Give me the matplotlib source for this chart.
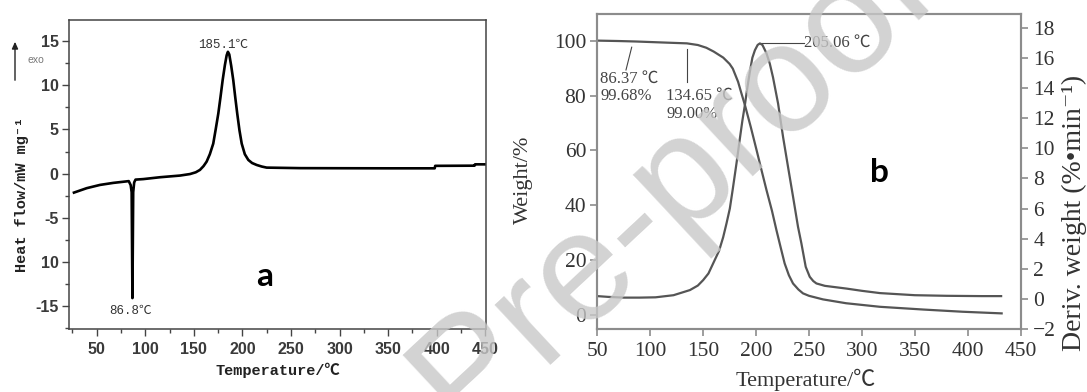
import matplotlib
matplotlib.use('Agg')
import matplotlib.pyplot as plt
from matplotlib.ticker import MultipleLocator, FixedLocator, FixedFormatter

# ---------------- data ----------------
# Panel a: DSC curve
dsc_temp = [26.6, 39.7, 53.4, 67.1, 79.1, 83.0, 85.0, 86.0, 86.8, 87.6, 88.6, 90.0,
            98.0, 115.2, 135.8, 146.0, 152.0, 156.3, 160.0, 163.2, 166.5, 170.0,
            172.5, 175.2, 177.5, 179.7, 182.0, 183.8, 185.1, 186.5, 188.5, 190.6,
            192.7, 194.7, 197.0, 199.3, 202.5, 206.1, 210.0, 214.7, 220.0, 225.0,
            260.0, 300.0, 350.0, 398.0, 398.5, 439.0, 439.5, 450.0]
dsc_heat = [-2.15, -1.65, -1.28, -1.05, -0.9, -0.85, -1.3, -2.1, -14.1, -2.1, -1.0, -0.68,
            -0.62, -0.41, -0.22, -0.05, 0.15, 0.42, 0.85, 1.36, 2.2, 3.4,
            5.0, 6.8, 8.7, 10.6, 12.3, 13.4, 13.8, 13.5, 12.2, 10.6,
            8.6, 6.8, 4.9, 3.4, 2.2, 1.55, 1.2, 0.98, 0.8, 0.68,
            0.62, 0.61, 0.6, 0.6, 0.88, 0.9, 1.05, 1.05]
dsc_xticks = [50, 100, 150, 200, 250, 300, 350, 400, 450]
dsc_yticks = [-15, -10, -5, 0, 5, 10, 15]
dsc_ylabels = ['-15', '10', '-5', '0', '5', '10', '15']

# Panel b: TG (left axis) and DTG (right axis)
tg_temp = [50, 70, 86.37, 106, 120, 134.65, 145, 153, 160, 169, 175, 178, 183, 186,
           189.4, 195, 200.4, 205, 209.8, 215, 219.2, 223, 227, 231, 234.9, 240,
           244.3, 250, 263.2, 285, 317, 358, 395, 432]
tg_weight = [100, 99.85, 99.68, 99.4, 99.2, 99.0, 98.4, 97.4, 96.0, 93.8, 91.5, 89.8,
             85.0, 81.0, 76.6, 68.5, 60.2, 53.0, 45.6, 38.0, 31.0, 25.0, 18.8, 14.5,
             11.5, 9.3, 7.9, 7.0, 5.7, 4.3, 3.0, 2.0, 1.2, 0.6]
dtg_temp = [50, 60, 75, 90, 105, 122, 137.5, 145, 150, 155, 159.4, 165, 168.9, 172,
            175.2, 178, 181.5, 184.6, 187, 189.4, 191.5, 194.2, 196.5, 198.9, 201.5,
            203.6, 206, 209.8, 213, 216, 220.8, 225.5, 230.2, 234.9, 239.6, 242.8,
            246.9, 250.7, 254, 257, 265, 285.3, 300, 317, 350, 380, 413, 431.5]
dtg_value = [0.2, 0.15, 0.1, 0.1, 0.12, 0.26, 0.6, 0.9, 1.26, 1.7, 2.36, 3.2, 4.1, 5.0,
             6.0, 7.3, 9.0, 10.6, 11.8, 12.85, 13.9, 15.1, 16.0, 16.5, 16.85,
             16.95, 16.85, 16.3, 15.6, 14.7, 12.96, 10.75, 8.76, 6.8, 4.8, 3.7,
             2.14, 1.48, 1.2, 1.04, 0.88, 0.7, 0.55, 0.4, 0.26, 0.22, 0.2, 0.2]
tga_xticks = [50, 100, 150, 200, 250, 300, 350, 400, 450]
tga_left_ticks = [0, 20, 40, 60, 80, 100]
tga_right_ticks = [-2, 0, 2, 4, 6, 8, 10, 12, 14, 16, 18]

# ---------------- figure ----------------
W, H = 1087, 392
fig = plt.figure(figsize=(W / 100, H / 100), dpi=100)


def rect(l, t, r, b):
    return [l / W, 1 - b / H, (r - l) / W, (b - t) / H]


def fx(px):
    return px / W


def fy(py):
    return 1 - py / H


mono = ['Liberation Mono', 'Noto Sans CJK SC', 'DejaVu Sans Mono']
serif = ['Liberation Serif', 'Noto Sans CJK SC', 'DejaVu Serif']

# ---------- panel a ----------
axa = fig.add_axes(rect(69, 20, 486, 329))
axa.set_facecolor('none')
axa.plot(dsc_temp, dsc_heat, color='black', lw=1.9, solid_joinstyle='round')
axa.set_xlim(21.5, 450.8)
axa.set_ylim(-17.6, 17.4)
axa.xaxis.set_major_locator(FixedLocator(dsc_xticks))
axa.xaxis.set_minor_locator(MultipleLocator(25))
axa.yaxis.set_major_locator(FixedLocator(dsc_yticks))
axa.yaxis.set_major_formatter(FixedFormatter(dsc_ylabels))
axa.yaxis.set_minor_locator(MultipleLocator(2.5))
for s in axa.spines.values():
    s.set_color('#444444')
    s.set_linewidth(1.1)
axa.tick_params(which='major', direction='out', length=5, width=1, color='#444444',
                labelsize=11.5, labelcolor='#3a3a3a')
axa.tick_params(which='minor', direction='out', length=3, width=1, color='#444444')
axa.tick_params(axis='x', pad=4)
axa.tick_params(axis='y', pad=2.5)
for lab in axa.get_xticklabels() + axa.get_yticklabels():
    lab.set_fontweight('bold')
    lab.set_family('Liberation Sans')

axa.text(180, 14.6, '185.1℃', family=mono, fontsize=9, color='#333333',
         ha='center', va='center')
axa.text(85.3, -15.6, '86.8℃', family=mono, fontsize=9, color='#333333',
         ha='center', va='center')
fig.text(fx(265), fy(277), 'a', family='Lato', fontweight='bold', fontsize=24,
         ha='center', va='center', color='black')
fig.text(fx(277.5), fy(370), 'Temperature/℃', family=mono, fontweight='bold',
         fontsize=11, ha='center', va='center', color='#222222')
fig.text(fx(22), fy(194), 'Heat flow/mW mg⁻¹', family=mono, fontweight='bold',
         fontsize=11, ha='center', va='center', rotation=90, color='#222222')
fig.text(fx(27), fy(60), 'exo', family='Liberation Sans', fontsize=7.5,
         color='#777777', ha='left', va='center')
fig.add_artist(matplotlib.patches.FancyArrowPatch(
    (fx(15), fy(83)), (fx(15), fy(39)), transform=fig.transFigure,
    arrowstyle='-|>,head_length=4,head_width=1.8', color='#222222', lw=1.0))

# ---------- panel b ----------
axb = fig.add_axes(rect(597.3, 14, 1020.7, 329.3))
axb.set_facecolor('none')
axr = axb.twinx()
line_c = '#555555'
axb.plot(tg_temp, tg_weight, color=line_c, lw=1.6)
axr.plot(dtg_temp, dtg_value, color=line_c, lw=1.6)
axb.set_xlim(50, 450)
axb.set_ylim(-5.2, 109.7)
axr.set_ylim(-2, 18.9)
axb.set_xticks(tga_xticks)
axb.set_yticks(tga_left_ticks)
axr.set_yticks(tga_right_ticks)
spine_c = '#8c8c8c'
for a in (axb, axr):
    for s in a.spines.values():
        s.set_color(spine_c)
        s.set_linewidth(1.5)
    a.tick_params(direction='out', length=5, width=1.2, color=spine_c,
                  labelsize=15.5, labelcolor='#333333')
    for lab in a.get_xticklabels() + a.get_yticklabels():
        lab.set_family('Liberation Serif')
axb.tick_params(axis='x', pad=4)
axb.tick_params(axis='y', pad=3)
axr.tick_params(axis='y', pad=4)

ann_c = '#444444'
axb.text(52.9, 82.9, '86.37 ℃\n99.68%', family=serif, fontsize=12, color=ann_c,
         ha='left', va='center', linespacing=1.05)
axb.text(115.1, 76.7, '134.65 ℃\n99.00%', family=serif, fontsize=12, color=ann_c,
         ha='left', va='center', linespacing=1.2)
axb.plot([82.5, 77.1], [97.6, 89.3], color=ann_c, lw=0.8)
axb.plot([134.3, 134.3], [96.9, 85.1], color=ann_c, lw=0.8)
axb.plot([205.1, 245.0], [99.05, 99.05], color=ann_c, lw=0.8)
axb.text(245.7, 99.05, '205.06 ℃', family=serif, fontsize=12, color=ann_c,
         ha='left', va='center')

fig.text(fx(879), fy(173), 'b', family='Lato', fontweight='bold', fontsize=24,
         ha='center', va='center', color='black')
fig.text(fx(806), fy(380), 'Temperature/℃', family=serif, fontsize=16,
         ha='center', va='center', color='#333333')
fig.text(fx(523), fy(180), 'Weight/%', family=serif, fontsize=16,
         ha='center', va='center', rotation=90, color='#333333')
fig.text(fx(1074), fy(213), 'Deriv. weight (%•min⁻¹)', family=serif, fontsize=20,
         ha='center', va='center', rotation=90, color='#333333')

# watermark
fig.text(fx(475), fy(380), 'Journal Pre-proof', family='Liberation Sans',
         fontsize=112, color='#c8c8c8', alpha=0.8, rotation=43,
         ha='center', va='center', zorder=10)

fig.savefig('out.png', dpi=100)
